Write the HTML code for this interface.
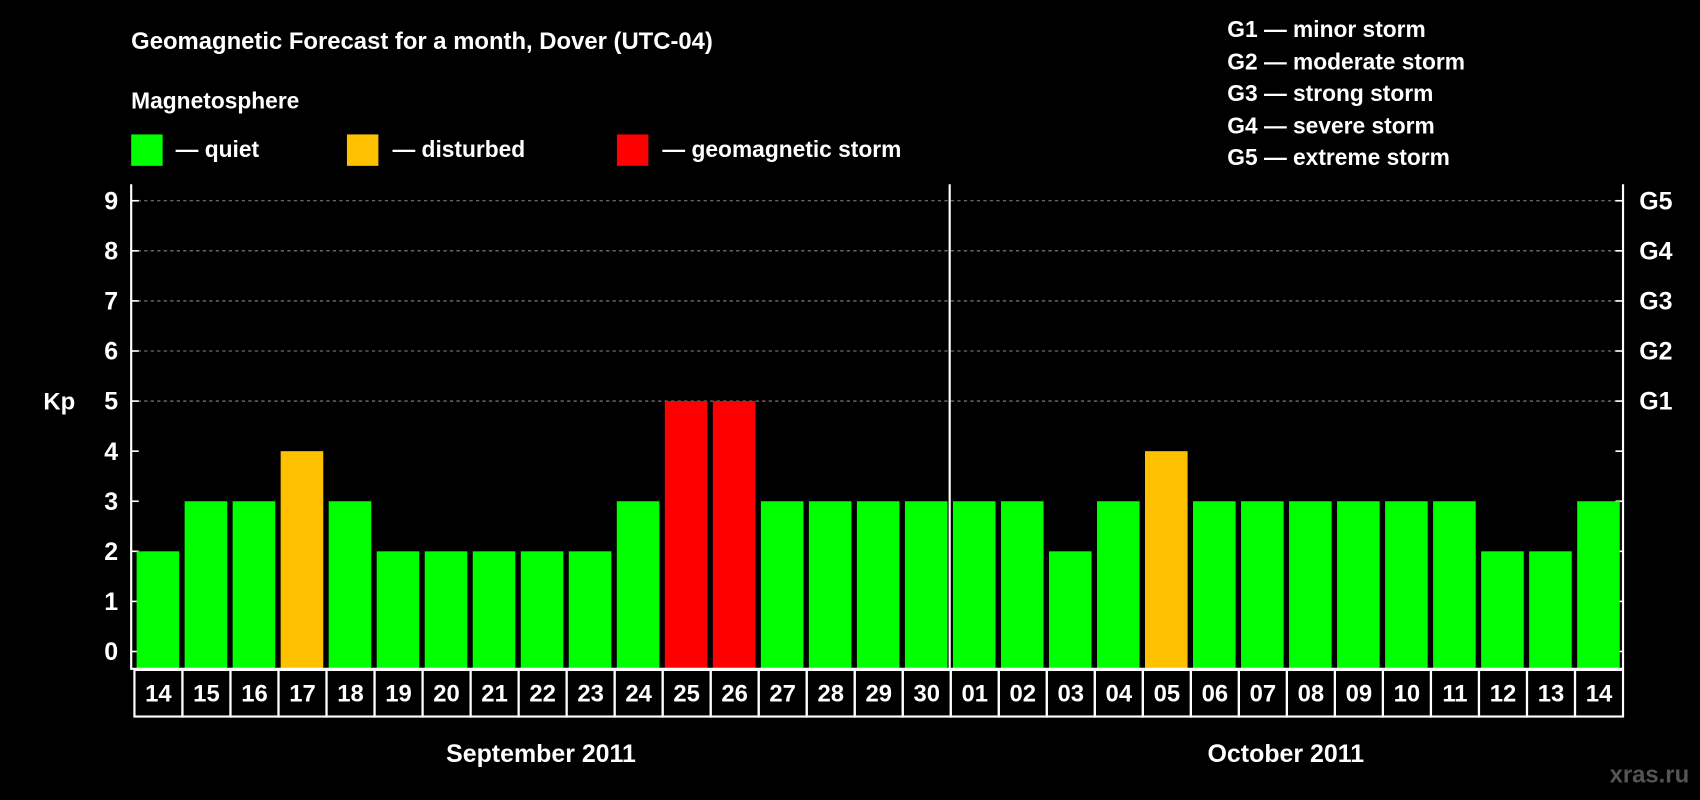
<!DOCTYPE html>
<html><head><meta charset="utf-8"><style>
html,body{margin:0;padding:0;background:#000;}
svg{display:block;}
text{font-family:"Liberation Sans",Arial,sans-serif;font-weight:bold;fill:#fff;}
</style></head><body>
<svg id="chart" width="1700" height="800" viewBox="0 0 1568 738" preserveAspectRatio="none" xmlns="http://www.w3.org/2000/svg">
<rect x="0" y="0" width="1568" height="738" fill="#000"/>
<text x="121" y="45" font-size="22">Geomagnetic Forecast for a month, Dover (UTC-04)</text>
<text x="121" y="100" font-size="21">Magnetosphere</text>
<g><rect x="121" y="124" width="29" height="29" fill="#00ff00"/><text x="162" y="145" font-size="21">— quiet</text></g>
<g><rect x="320" y="124" width="29" height="29" fill="#ffc000"/><text x="362" y="145" font-size="21">— disturbed</text></g>
<g><rect x="569" y="124" width="29" height="29" fill="#ff0000"/><text x="611" y="145" font-size="21">— geomagnetic storm</text></g>
<g font-size="21">
<text x="1132" y="34">G1 — minor storm</text>
<text x="1132" y="64">G2 — moderate storm</text>
<text x="1132" y="93">G3 — strong storm</text>
<text x="1132" y="123">G4 — severe storm</text>
<text x="1132" y="152">G5 — extreme storm</text>
</g>
<text x="40" y="378" font-size="22">Kp</text>
<g id="plot"></g>
<text x="499" y="703" font-size="23" text-anchor="middle">September 2011</text>
<text x="1186" y="703" font-size="23" text-anchor="middle">October 2011</text>
<text x="1558" y="722" font-size="22" text-anchor="end" fill="#555" style="fill:#555">xras.ru</text>
</svg>
<script>
const days = ["14","15","16","17","18","19","20","21","22","23","24","25","26","27","28","29","30","01","02","03","04","05","06","07","08","09","10","11","12","13","14"];
const kpValues = [2,3,3,4,3,2,2,2,2,2,3,5,5,3,3,3,3,3,3,2,3,4,3,3,3,3,3,3,2,2,3];
const yTicks = [0,1,2,3,4,5,6,7,8,9];
const gLabels = ["G1","G2","G3","G4","G5"];
const NS="http://www.w3.org/2000/svg";
const plot=document.getElementById('plot');
const L=121,R=1497,T=170,B=617;
const n=days.length, step=(R-L-3)/n;
const y=v=>601-v*46.2;
const x=i=>L+3+i*step;
function mk(tag,a){const e=document.createElementNS(NS,tag);for(const k in a)e.setAttribute(k,a[k]);plot.appendChild(e);return e;}
yTicks.forEach(t=>{
  if(t>=5){const g=mk('line',{x1:L,x2:R,y1:y(t),y2:y(t),stroke:'#888','stroke-dasharray':'3,3','stroke-width':1});
  
  }
  mk('line',{x1:L,x2:L+7,y1:y(t),y2:y(t),stroke:'#fff','stroke-width':1.5});
  mk('line',{x1:R-7,x2:R,y1:y(t),y2:y(t),stroke:'#fff','stroke-width':1.5});
  const tx=mk('text',{x:L-12,y:y(t)+8,'font-size':23,'text-anchor':'end'});tx.textContent=t;
  
  
});
gLabels.forEach((g,i)=>{const tx=mk('text',{x:R+15,y:y(5+i)+8,'font-size':23});tx.textContent=g;
  
  });
kpValues.forEach((v,i)=>{
  const c=v>=5?'#ff0000':(v>=4?'#ffc000':'#00ff00');
  const r=mk('rect',{x:x(i)+2,y:y(v),width:step-5,height:B-y(v),fill:c});
  
  
  mk('rect',{x:x(i),y:B+1,width:step,height:43,fill:'none',stroke:'#fff','stroke-width':2});
  const tx=mk('text',{x:x(i)+step/2,y:B+30,'font-size':22,'text-anchor':'middle'});tx.textContent=days[i];
  
  
});
mk('polyline',{points:`${L},${T} ${L},${B} ${R},${B} ${R},${T}`,fill:'none',stroke:'#fff','stroke-width':2});
const sep=mk('line',{x1:x(17)-1,x2:x(17)-1,y1:T,y2:B,stroke:'#fff','stroke-width':2});


</script>
</body></html>
